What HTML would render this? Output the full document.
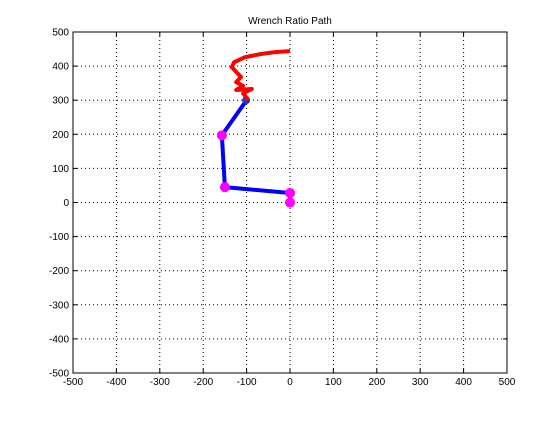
<!DOCTYPE html>
<html><head><meta charset="utf-8"><style>
body{margin:0;background:#fff;width:560px;height:420px;overflow:hidden}
text{font-family:"Liberation Sans",sans-serif;font-size:10px;fill:#000}
</style></head><body>
<svg id="c" width="560" height="420"></svg>
<script>
const xTicks=[-500,-400,-300,-200,-100,0,100,200,300,400,500];
const yTicks=[-500,-400,-300,-200,-100,0,100,200,300,400,500];
const blueX=[0,0,-150,-157,-100];
const blueY=[0,28,45,197,300];
const markerX=[0,0,-150,-157,-101];
const markerY=[0,28,45,197,300];
const redX=[0,-35,-69,-104,-129,-134,-124,-113,-124,-108,-124,-88,-108,-99,-99];
const redY=[444,441,435,426,411,397,383,368,353,342,330,333,320,306,300];
const L=73,R=507,T=32,B=373;
const sx=v=>L+(v+500)/1000*(R-L);
const sy=v=>B-(v+500)/1000*(B-T);
const svg=document.getElementById('c');
const NS='http://www.w3.org/2000/svg';
function mk(t,a,p){const e=document.createElementNS(NS,t);for(const k in a)e.setAttribute(k,a[k]);(p||svg).appendChild(e);return e;}
const grid=mk('g',{});


xTicks.forEach(v=>{
  if(v>-500&&v<500)mk('line',{x1:sx(v),x2:sx(v),y1:T,y2:B,stroke:'#000','stroke-width':1,'stroke-dasharray':'1,3'},grid);
  mk('line',{x1:sx(v),x2:sx(v),y1:B,y2:B-4,stroke:'#000'},grid);
  mk('line',{x1:sx(v),x2:sx(v),y1:T,y2:T+4,stroke:'#000'},grid);
  const t=mk('text',{x:sx(v),y:B+12,'text-anchor':'middle'});t.textContent=v;
  
  
});
yTicks.forEach(v=>{
  if(v>-500&&v<500)mk('line',{x1:L,x2:R,y1:sy(v),y2:sy(v),stroke:'#000','stroke-width':1,'stroke-dasharray':'1,3'},grid);
  mk('line',{x1:L,x2:L+4,y1:sy(v),y2:sy(v),stroke:'#000'},grid);
  mk('line',{x1:R,x2:R-4,y1:sy(v),y2:sy(v),stroke:'#000'},grid);
  const t=mk('text',{x:L-4,y:sy(v)+3.5,'text-anchor':'end'});t.textContent=v;
  
  
});
const box=mk('rect',{x:L,y:T,width:R-L,height:B-T,fill:'none',stroke:'#000'});


const title=mk('text',{x:(L+R)/2,y:24,'text-anchor':'middle'});title.textContent='Wrench Ratio Path';


const blue=mk('polyline',{points:blueX.map((v,i)=>sx(v)+','+sy(blueY[i])).join(' '),fill:'none',stroke:'#0000ff','stroke-width':4,'stroke-linejoin':'round'});


markerX.forEach((v,i)=>{
  const c=mk('circle',{cx:sx(v),cy:sy(markerY[i]),r:i==4?4:5,fill:i==4?'#3030c0':'#ff00ff'});
  
  
});
const red=mk('polyline',{points:redX.map((v,i)=>sx(v)+','+sy(redY[i])).join(' '),fill:'none',stroke:'#ff0000','stroke-width':4,'stroke-linejoin':'round'});


</script>
</body></html>
